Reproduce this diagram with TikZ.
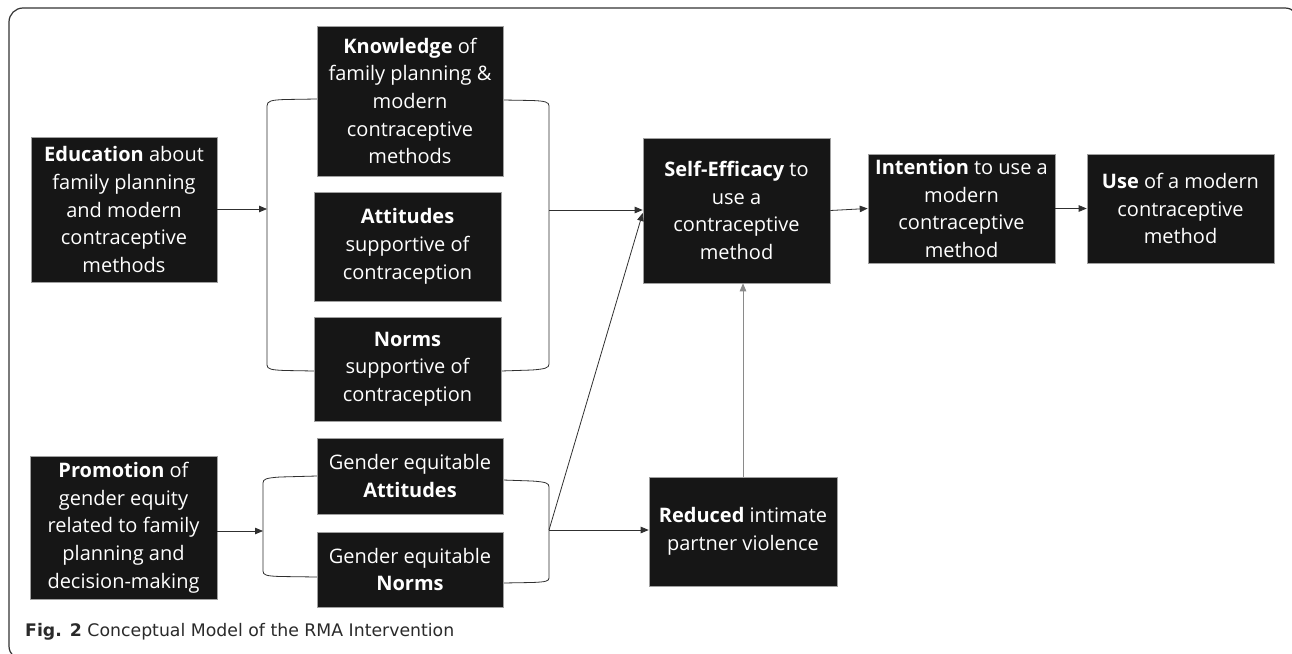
\documentclass[tikz,border=0pt]{standalone}
\usepackage{fontspec}
\setmainfont{Open Sans}
\newfontfamily\capfont{DejaVu Sans}
\usetikzlibrary{arrows.meta,calc}
\definecolor{boxfill}{HTML}{161616}
\definecolor{boxline}{HTML}{A0A0A0}
\definecolor{linecol}{HTML}{303030}
\definecolor{graycol}{HTML}{8A8A8A}
\definecolor{framecol}{HTML}{333333}
\definecolor{captext}{HTML}{2A2A2A}
\tikzset{
  box/.style={fill=boxfill, draw=boxline, line width=0.6pt, text=white, align=center,
    inner sep=0pt, font=\fontsize{20}{27.7}\selectfont},
  conn/.style={draw=linecol, line width=0.8pt, -{Triangle[length=8pt,width=6.5pt]}},
  brk/.style={draw=linecol, line width=0.8pt},
}
\begin{document}
\begin{tikzpicture}[x=1pt,y=-1pt]
\useasboundingbox (0,0) rectangle (1292,653);
\clip (0,0) rectangle (1292,653);
\fill[white] (0,0) rectangle (1292,653);
% frame
\draw[framecol, line width=1.2pt, rounded corners=14pt] (9,8) rectangle (1299,660);

% brackets
\draw[brk] (317,99) -- (285,99.5) .. controls (271,100) and (267,101) .. (267,106) -- (267,365) .. controls (267,369) and (271,370) .. (285,370.5) -- (314,371);
\draw[brk] (503,100) -- (532,100.5) .. controls (545,101) and (549,102) .. (549,106) -- (549,364) .. controls (549,368) and (545,369) .. (532,370) -- (501,371);
\draw[brk] (317,476) -- (280,477) .. controls (266,478) and (263,479) .. (263,483) -- (263,571) .. controls (263,575) and (266,576) .. (280,576.5) -- (317,577);
\draw[brk] (503,480) -- (532,481) .. controls (546,482) and (549,483) .. (549,487) -- (549,578) .. controls (549,581) and (546,582) .. (532,582.5) -- (503,583);
\coordinate (ubL) at (267,209);
\coordinate (ubR) at (549,210);
\coordinate (lbL) at (263,531);
\coordinate (lbR) at (549,530);

% boxes
\node[box, minimum width=186pt, minimum height=145pt] (edu) at (124,209.5)
  {\textbf{Education} about\\family planning\\and modern\\contraceptive\\methods};
\node[box, minimum width=186pt, minimum height=150pt] (know) at (410,101)
  {\textbf{Knowledge} of\\family planning \&\\modern\\contraceptive\\methods};
\node[box, minimum width=187pt, minimum height=109pt] (att) at (407.5,246.5)
  {\textbf{Attitudes}\\supportive of\\contraception};
\node[box, minimum width=187pt, minimum height=104pt] (norms) at (407.5,369)
  {\textbf{Norms}\\supportive of\\contraception};
\node[box, minimum width=187pt, minimum height=143pt] (prom) at (123.5,527.5)
  {\textbf{Promotion} of\\gender equity\\related to family\\planning and\\decision-making};
\node[box, minimum width=186pt, minimum height=76pt] (gatt) at (410,476)
  {Gender equitable\\\textbf{Attitudes}};
\node[box, minimum width=186pt, minimum height=75pt] (gnorm) at (410,569.5)
  {Gender equitable\\\textbf{Norms}};
\node[box, minimum width=187pt, minimum height=145pt] (self) at (736.5,210.5)
  {\textbf{Self-Efficacy} to\\use a\\contraceptive\\method};
\node[box, minimum width=188pt, minimum height=109pt] (red) at (743,531.5)
  {\textbf{Reduced} intimate\\partner violence};
\node[box, minimum width=187pt, minimum height=109pt] (int) at (961.5,208.5)
  {\textbf{Intention} to use a\\modern\\contraceptive\\method};
\node[box, minimum width=187pt, minimum height=109pt] (use) at (1180.5,208.5)
  {\textbf{Use} of a modern\\contraceptive\\method};

% connectors
\draw[conn] (edu.east |- ubL) -- (ubL);
\draw[conn] (ubR) -- (ubR -| self.west);
\draw[conn] (prom.east |- lbL) -- (lbL);
\draw[conn] (lbR) -- (lbR -| red.west);
\draw[conn] (lbR) -- ($(self.west)+(0,2.5)$);
\draw[conn, draw=graycol] (red.north) -- (red.north |- self.south);
\draw[conn] (self.east) -- (int.west);
\draw[conn] (int.east) -- (use.west);

% caption
\node[anchor=base west, inner sep=0pt, text=captext, font=\capfont\fontsize{17.3}{21}\selectfont] (cap) at (25,636)
  {\textbf{Fig. 2} Conceptual Model of the RMA Intervention};
\end{tikzpicture}
\end{document}
